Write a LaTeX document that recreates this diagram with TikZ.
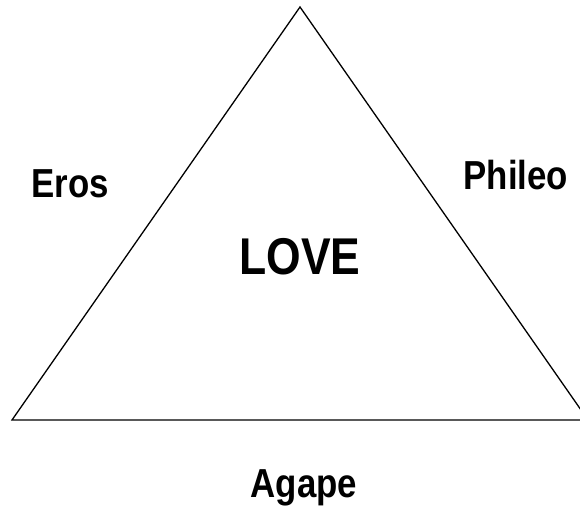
\documentclass[tikz,border=0pt]{standalone}
\usepackage{fontspec}
\setmainfont{Liberation Sans}[FakeStretch=0.86]
\usepackage{tikz}
\usetikzlibrary{positioning}

\begin{document}
\begin{tikzpicture}[
  x=1pt,y=-1pt,
  every node/.style={font=\fontsize{40.5}{44}\selectfont\bfseries,inner sep=0pt,anchor=base},
  title/.style={font=\fontsize{51.7}{56}\selectfont\bfseries},
  edge/.style={line width=1.3pt,line join=miter}
]
\useasboundingbox (0,0) rectangle (580,510);
\clip (0,0) rectangle (580,510);
\coordinate (top) at (300,7);
\coordinate (left) at (12,420);
\coordinate (right) at (588,420);
\draw[edge] (top) -- (right) -- (left) -- cycle;
\node[title] (love) at (300,274) {LOVE};
\node (eros) at (70,198) {Eros};
\node (phileo) at (516,190) {Phileo};
\node (agape) at (304,497) {Agape};
\end{tikzpicture}
\end{document}
